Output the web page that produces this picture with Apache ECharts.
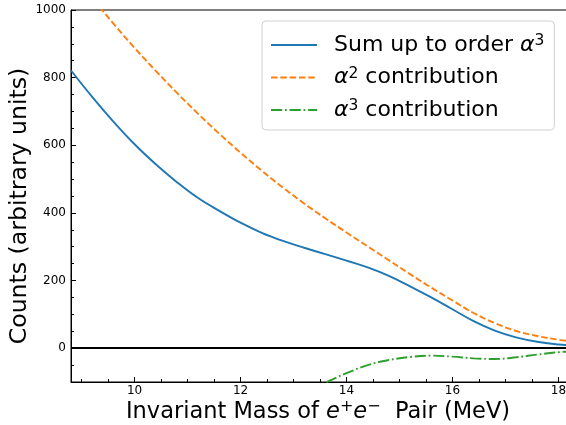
<!DOCTYPE html>
<html>
<head>
<meta charset="utf-8">
<script src="https://cdn.jsdelivr.net/npm/echarts@6/dist/echarts.min.js"></script>
<style>
html,body{margin:0;padding:0;background:#fff;}
#chart{width:566px;height:425px;}
</style>
</head>
<body>
<div id="chart"></div>
<script>
// ---- data ----
const massX = [8.8, 9.2, 9.6, 10.0, 10.4, 10.8, 11.2, 11.6, 12.0, 12.4, 12.8, 13.2, 13.6, 14.0, 14.4, 14.8, 15.2, 15.6, 16.0, 16.4, 16.8, 17.2, 17.6, 18.0, 18.2];
const sumY = [821, 743, 670, 603, 544, 491, 444, 406, 371, 341, 317, 297, 278, 259, 239, 214, 183, 150, 115, 80, 52, 32, 19, 11, 9];
const a2Y  = [1117, 1036, 960, 888, 820, 755, 693, 634, 578, 525, 475, 428, 384, 342, 301, 260, 219, 179, 141, 104, 74, 51, 36, 25, 21];

const a3X = [12.0, 12.4, 12.8, 13.2, 13.6, 14.0, 14.4, 14.8, 15.2, 15.6, 16.0, 16.4, 16.8, 17.2, 17.6, 18.0, 18.2];
const a3Y = [-205, -183, -156, -129, -102, -74, -50, -35, -26, -22, -25, -30, -32, -27, -19, -12, -10];

const xTickLabels = [10, 12, 14, 16, 18];
const yTickLabels = [0, 200, 400, 600, 800, 1000];

const seriesNames = ['Sum up to order α3', 'α2 contribution', 'α3 contribution'];

// ---- helpers ----
const zip = (xs, ys) => xs.map((x, i) => [x, ys[i]]);
const xMin = 8.8, xMax = 18.2, yMin = -100, yMax = 1000;
const xMinor = [];
for (let v = 9; v <= 18.0001; v += 0.5) { if (!xTickLabels.includes(v)) xMinor.push(v); }
const yMinor = [];
for (let v = -50; v <= 1000; v += 50) { if (!yTickLabels.includes(v)) yMinor.push(v); }

const FONT = 'DejaVu Sans';
const chart = echarts.init(document.getElementById('chart'), null, {renderer: 'canvas'});

const legendFmt = {};
legendFmt[seriesNames[0]] = '{n|Sum up to order }{i|α}{s|3}';
legendFmt[seriesNames[1]] = '{i|α}{s|2}{n| contribution}';
legendFmt[seriesNames[2]] = '{i|α}{s|3}{n| contribution}';

const gridPos = {left: 71, top: 10, right: -3, bottom: 43};

chart.setOption({
  animation: false,
  backgroundColor: '#fff',
  grid: [
    Object.assign({show: true, borderColor: '#000', borderWidth: 1, backgroundColor: 'transparent', outerBoundsMode: 'none', containLabel: false}, gridPos),
    Object.assign({show: false, outerBoundsMode: 'none', containLabel: false}, gridPos)
  ],
  legend: {
    orient: 'vertical',
    left: 262, top: 21,
    padding: [12, 10, 8, 8],
    itemWidth: 46, itemHeight: 14, itemGap: 8.5,
    borderColor: '#d0d0d0', borderWidth: 1, borderRadius: 4,
    backgroundColor: 'rgba(255,255,255,0.85)',
    itemStyle: {opacity: 0},
    data: seriesNames,
    formatter: name => legendFmt[name],
    textStyle: {
      fontFamily: FONT, fontSize: 22, color: '#000', lineHeight: 24, padding: [0, 0, 0, 12],
      rich: {
        n: {fontFamily: FONT, fontSize: 22, color: '#000', lineHeight: 24},
        i: {fontFamily: FONT, fontSize: 22, fontStyle: 'italic', color: '#000', lineHeight: 24},
        s: {fontFamily: FONT, fontSize: 15.5, color: '#000', lineHeight: 15, verticalAlign: 'top'}
      }
    }
  },
  graphic: [{
    type: 'text', silent: true,
    style: {
      x: 318, y: 412, align: 'center', verticalAlign: 'middle',
      text: '{n|Invariant Mass of }{i|e}{s|+}{i|e}{s|−}{n|  Pair (MeV)}',
      rich: {
        n: {fontFamily: FONT, fontSize: 22.5, fill: '#000', lineHeight: 26},
        i: {fontFamily: FONT, fontSize: 22.5, fontStyle: 'italic', fill: '#000', lineHeight: 26},
        s: {fontFamily: FONT, fontSize: 16, fill: '#000', lineHeight: 16, verticalAlign: 'top'}
      }
    }
  }, {
    type: 'text', silent: true,
    x: 20, y: 206, rotation: Math.PI / 2,
    style: {
      x: 0, y: 0, align: 'center', verticalAlign: 'middle',
      text: 'Counts (arbitrary units)',
      fontFamily: FONT, fontSize: 23.6, fill: '#000'
    }
  }],
  xAxis: [{
    type: 'value', min: xMin, max: xMax, gridIndex: 0, position: 'bottom',
    axisLine: {show: true, onZero: false, lineStyle: {color: '#000', width: 1}},
    axisTick: {show: true, inside: true, length: 5, customValues: xTickLabels, lineStyle: {color: '#000', width: 1}},
    axisLabel: {show: true, customValues: xTickLabels, margin: 3, fontFamily: FONT, fontSize: 12, color: '#000', formatter: v => String(v)},
    splitLine: {show: false}
  }, {
    type: 'value', min: xMin, max: xMax, gridIndex: 1, position: 'bottom',
    axisLine: {show: false, onZero: false},
    axisTick: {show: true, inside: true, length: 3, customValues: xMinor, lineStyle: {color: '#000', width: 1}},
    axisLabel: {show: false},
    splitLine: {show: false}
  }],
  yAxis: [{
    type: 'value', min: yMin, max: yMax, gridIndex: 0, position: 'left',
    axisLine: {show: true, onZero: false, lineStyle: {color: '#000', width: 1}},
    axisTick: {show: true, inside: true, length: 5, customValues: yTickLabels, lineStyle: {color: '#000', width: 1}},
    axisLabel: {show: true, customValues: yTickLabels, margin: 5, fontFamily: FONT, fontSize: 12, color: '#000', formatter: v => String(v)},
    splitLine: {show: false}
  }, {
    type: 'value', min: yMin, max: yMax, gridIndex: 1, position: 'left',
    axisLine: {show: false, onZero: false},
    axisTick: {show: true, inside: true, length: 3, customValues: yMinor, lineStyle: {color: '#000', width: 1}},
    axisLabel: {show: false},
    splitLine: {show: false}
  }],
  series: [{
    name: seriesNames[0], type: 'line', xAxisIndex: 0, yAxisIndex: 0, data: zip(massX, sumY), smooth: 0.4, symbol: 'none', clip: true,
    color: '#1f77b4', lineStyle: {color: '#1f77b4', width: 1.9},
    markLine: {silent: true, symbol: 'none', label: {show: false}, animation: false,
      lineStyle: {color: '#000', width: 2, type: 'solid'}, data: [{yAxis: 0}]},
    z: 3
  }, {
    name: seriesNames[1], type: 'line', xAxisIndex: 0, yAxisIndex: 0, data: zip(massX, a2Y), smooth: 0.4, symbol: 'none', clip: true,
    color: '#ff7f0e', lineStyle: {color: '#ff7f0e', width: 1.9, type: [6.5, 2.8]}, z: 3
  }, {
    name: seriesNames[2], type: 'line', xAxisIndex: 0, yAxisIndex: 0, data: zip(a3X, a3Y), smooth: 0.4, symbol: 'none', clip: true,
    color: '#2ca02c', lineStyle: {color: '#2ca02c', width: 1.9, type: [11.2, 2.8, 1.75, 2.8]}, z: 3
  }]
});
</script>
</body>
</html>
